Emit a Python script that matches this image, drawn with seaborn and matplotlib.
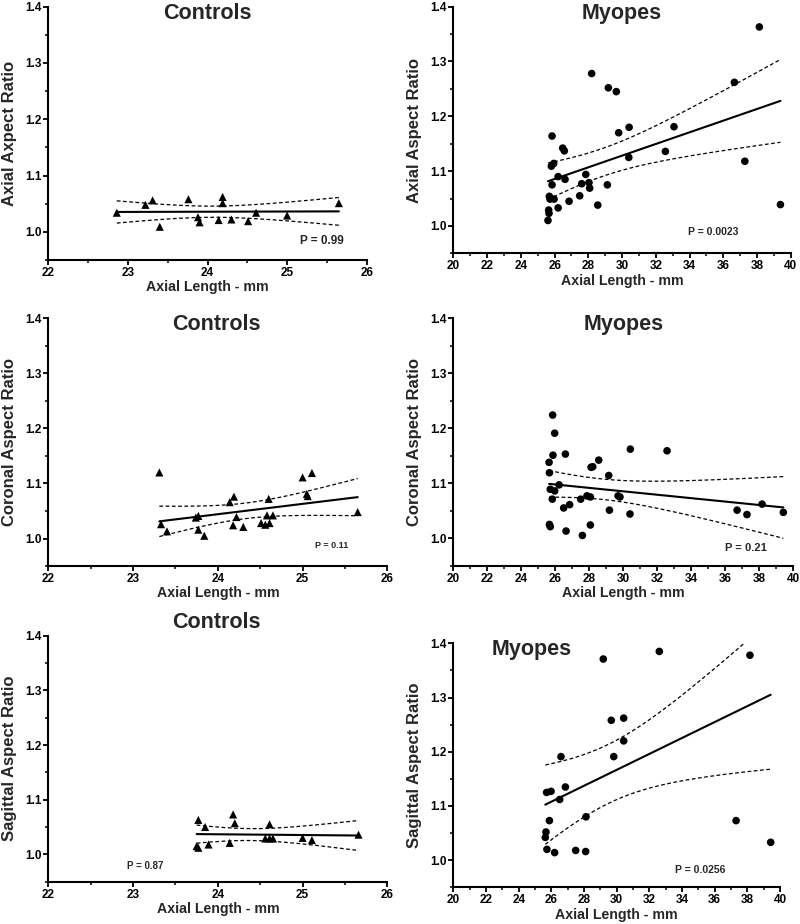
"""
Aspect ratio vs axial length: controls and myopes, axial / coronal / sagittal.
Scatter + OLS fit with dashed 95% confidence bands for the mean.
"""

import matplotlib
matplotlib.use("Agg")
import matplotlib.pyplot as plt
import numpy as np
import seaborn as sns
from matplotlib.ticker import MultipleLocator

# ==========================================
# DATA
# ==========================================
# Controls - axial
ctrl_axial_len = [22.86, 23.22, 23.31, 23.40, 23.76, 23.88, 23.90, 24.14,
                  24.19, 24.19, 24.30, 24.51, 24.61, 25.00, 25.65]
ctrl_axial_ratio = [1.034, 1.048, 1.056, 1.009, 1.058, 1.026, 1.017, 1.021,
                    1.062, 1.051, 1.022, 1.019, 1.034, 1.029, 1.051]

# Myopes - axial
myo_axial_len = [29.19, 29.66, 36.66, 25.85, 26.48, 26.58, 29.80, 30.42, 33.08,
                 32.57, 30.40, 37.28, 25.81, 25.95, 26.21, 26.62, 25.85, 27.85,
                 27.61, 28.04, 28.08, 29.13, 25.69, 25.73, 25.97, 27.49, 26.86,
                 26.21, 28.56, 25.65, 25.67, 25.61, 39.39, 28.20, 38.14]
myo_axial_ratio = [1.252, 1.245, 1.262, 1.164, 1.142, 1.137, 1.170, 1.180, 1.181,
                   1.136, 1.125, 1.118, 1.109, 1.114, 1.090, 1.085, 1.075, 1.094,
                   1.077, 1.079, 1.069, 1.075, 1.054, 1.049, 1.049, 1.055, 1.045,
                   1.033, 1.038, 1.029, 1.023, 1.010, 1.039, 1.278, 1.363]

# Controls - coronal
ctrl_coronal_len = [23.31, 23.33, 23.40, 23.74, 23.77, 23.77, 23.84, 24.14,
                    24.19, 24.18, 24.22, 24.30, 24.51, 24.56, 24.58, 24.60,
                    24.61, 24.65, 25.00, 25.05, 25.06, 25.11, 25.65]
ctrl_coronal_ratio = [1.120, 1.026, 1.013, 1.038, 1.041, 1.016, 1.005, 1.066,
                      1.076, 1.024, 1.039, 1.021, 1.028, 1.025, 1.042, 1.072,
                      1.028, 1.042, 1.111, 1.081, 1.077, 1.119, 1.048]

# Myopes - coronal
myo_coronal_len = [25.84, 25.96, 25.86, 26.59, 25.63, 25.65, 28.55, 28.10, 28.20,
                   30.41, 32.57, 29.14, 26.22, 25.70, 25.96, 25.82, 26.84, 26.49,
                   27.49, 27.86, 28.06, 29.69, 29.80, 29.18, 30.39, 25.65, 25.70,
                   26.63, 28.06, 27.59, 36.69, 37.27, 38.16, 39.41]
myo_coronal_ratio = [1.224, 1.191, 1.151, 1.153, 1.138, 1.119, 1.142, 1.129, 1.130,
                     1.162, 1.159, 1.114, 1.097, 1.089, 1.086, 1.071, 1.061, 1.055,
                     1.071, 1.077, 1.075, 1.077, 1.075, 1.051, 1.044, 1.025, 1.021,
                     1.013, 1.024, 1.005, 1.051, 1.043, 1.062, 1.047]

# Controls - sagittal
ctrl_sagittal_len = [23.77, 23.85, 24.18, 24.20, 24.61, 23.75, 23.77, 23.89,
                     24.14, 24.56, 24.61, 24.65, 25.00, 25.11, 25.66]
ctrl_sagittal_ratio = [1.063, 1.050, 1.073, 1.057, 1.055, 1.015, 1.012, 1.018,
                       1.021, 1.029, 1.029, 1.029, 1.030, 1.026, 1.036]

# Myopes - sagittal
# the 36.7 mm eye (seen in the axial and coronal panels) lies above the 1.4
# axis limit here; it is clipped from view but still enters the fit
myo_sagittal_len = [29.18, 32.61, 38.16, 29.67, 30.43, 30.43, 29.82, 26.59, 26.86,
                    25.71, 25.98, 26.51, 25.88, 28.12, 25.67, 25.63, 25.73, 26.20,
                    27.49, 28.10, 37.31, 39.43, 36.69]
myo_sagittal_ratio = [1.371, 1.385, 1.378, 1.258, 1.262, 1.220, 1.191, 1.191, 1.135,
                      1.125, 1.127, 1.112, 1.073, 1.080, 1.052, 1.042, 1.020, 1.014,
                      1.018, 1.016, 1.073, 1.033, 1.483]

p_values = ["P = 0.99", "P = 0.0023", "P = 0.11", "P = 0.21", "P = 0.87", "P = 0.0256"]


# ==========================================
# HELPERS
# ==========================================
def t975(df):
    # Cornish-Fisher expansion of the Student t quantile (no scipy here)
    z = 1.959964
    g1 = (z**3 + z) / 4
    g2 = (5 * z**5 + 16 * z**3 + 3 * z) / 96
    g3 = (3 * z**7 + 19 * z**5 + 17 * z**3 - 15 * z) / 384
    return z + g1 / df + g2 / df**2 + g3 / df**3


def mean_ci(x, y, n_pts=200):
    x = np.asarray(x)
    y = np.asarray(y)
    n = len(x)
    b, a = np.polyfit(x, y, 1)
    resid = y - (a + b * x)
    s = np.sqrt(np.sum(resid**2) / (n - 2))
    sxx = np.sum((x - x.mean())**2)
    xx = np.linspace(x.min(), x.max(), n_pts)
    yy = a + b * xx
    half = t975(n - 2) * s * np.sqrt(1 / n + (xx - x.mean())**2 / sxx)
    return xx, yy - half, yy + half


def panel(ax, x, y, marker, title, title_pos, ylabel, xlim, xmajor, xminor,
          ptext, ppos, psize):
    size = 34 if marker == "^" else 30
    sns.regplot(x=x, y=y, ax=ax, ci=None, marker=marker, color="black",
                scatter_kws={"s": size, "edgecolor": "none", "alpha": 1},
                line_kws={"lw": 1.5})
    xx, lo, hi = mean_ci(x, y)
    for band in (lo, hi):
        sns.lineplot(x=xx, y=band, ax=ax, color="black", lw=0.9,
                     linestyle=(0, (3, 2)), errorbar=None)

    ax.set_xlim(*xlim)
    ax.set_ylim(0.95, 1.4)
    ax.xaxis.set_major_locator(MultipleLocator(xmajor))
    ax.xaxis.set_minor_locator(MultipleLocator(xminor))
    ax.set_yticks([1.0, 1.1, 1.2, 1.3, 1.4])
    ax.yaxis.set_minor_locator(MultipleLocator(0.05))
    ax.tick_params(which="major", direction="out", length=3.5, width=1.3,
                   labelsize=8.5, pad=1.5)
    ax.tick_params(which="minor", direction="out", length=2.2, width=1.1)
    for lbl in ax.get_xticklabels() + ax.get_yticklabels():
        lbl.set_fontweight("bold")

    ax.set_xlabel("Axial Length - mm", fontsize=10.2, fontweight="bold", labelpad=1)
    ax.set_ylabel(ylabel, fontsize=12, fontweight="bold")
    width_px = ax.get_position().width * fig.get_figwidth() * fig.dpi
    ax.yaxis.set_label_coords(-31 / width_px, 0.5)
    ax.text(title_pos[0], title_pos[1], title, transform=ax.transAxes,
            ha="center", va="center", fontsize=15.5, fontweight="bold")
    ax.text(ppos[0], ppos[1], ptext, transform=ax.transAxes,
            ha="center", va="center", fontsize=psize, fontweight="bold")
    sns.despine(ax=ax)
    for side in ("left", "bottom"):
        ax.spines[side].set_linewidth(1.5)


# ==========================================
# FIGURE
# ==========================================
sns.set_theme(style="ticks")
plt.rcParams["font.family"] = ["Liberation Sans", "DejaVu Sans"]
plt.rcParams["axes.edgecolor"] = "black"
plt.rcParams["xtick.color"] = "black"
plt.rcParams["ytick.color"] = "black"

fig = plt.figure(figsize=(8, 9.24), dpi=100)

ax1 = fig.add_axes([0.0604, 0.7186, 0.398, 0.2742])
ax2 = fig.add_axes([0.5667, 0.7258, 0.4217, 0.2670])
ax3 = fig.add_axes([0.0604, 0.3874, 0.4238, 0.2681])
ax4 = fig.add_axes([0.5667, 0.3878, 0.4250, 0.2677])
ax5 = fig.add_axes([0.0604, 0.0458, 0.4238, 0.2662])
ax6 = fig.add_axes([0.5667, 0.0397, 0.4083, 0.2641])

panel(ax1, ctrl_axial_len, ctrl_axial_ratio, "^", "Controls", (0.5, 0.972),
      "Axial Axpect Ratio", (22, 26), 1, 0.5, p_values[0], (0.859, 0.076), 8.5)
panel(ax2, myo_axial_len, myo_axial_ratio, "o", "Myopes", (0.5, 0.972),
      "Axial Aspect Ratio", (20, 40), 2, 1, p_values[1], (0.769, 0.088), 7.5)
panel(ax3, ctrl_coronal_len, ctrl_coronal_ratio, "^", "Controls", (0.497, 0.975),
      "Coronal Aspect Ratio", (22, 26), 1, 0.5, p_values[2], (0.836, 0.082), 6.5)
panel(ax4, myo_coronal_len, myo_coronal_ratio, "o", "Myopes", (0.5, 0.975),
      "Coronal Aspect Ratio", (20, 40), 2, 1, p_values[3], (0.86, 0.070), 8)
panel(ax5, ctrl_sagittal_len, ctrl_sagittal_ratio, "^", "Controls", (0.497, 1.053),
      "Sagittal Aspect Ratio", (22, 26), 1, 0.5, p_values[4], (0.287, 0.065), 7)
panel(ax6, myo_sagittal_len, myo_sagittal_ratio, "o", "Myopes", (0.24, 0.975),
      "Sagittal Aspect Ratio", (20, 40), 2, 1, p_values[5], (0.755, 0.071), 7.5)

fig.savefig("out.png", dpi=100)
plt.close(fig)
